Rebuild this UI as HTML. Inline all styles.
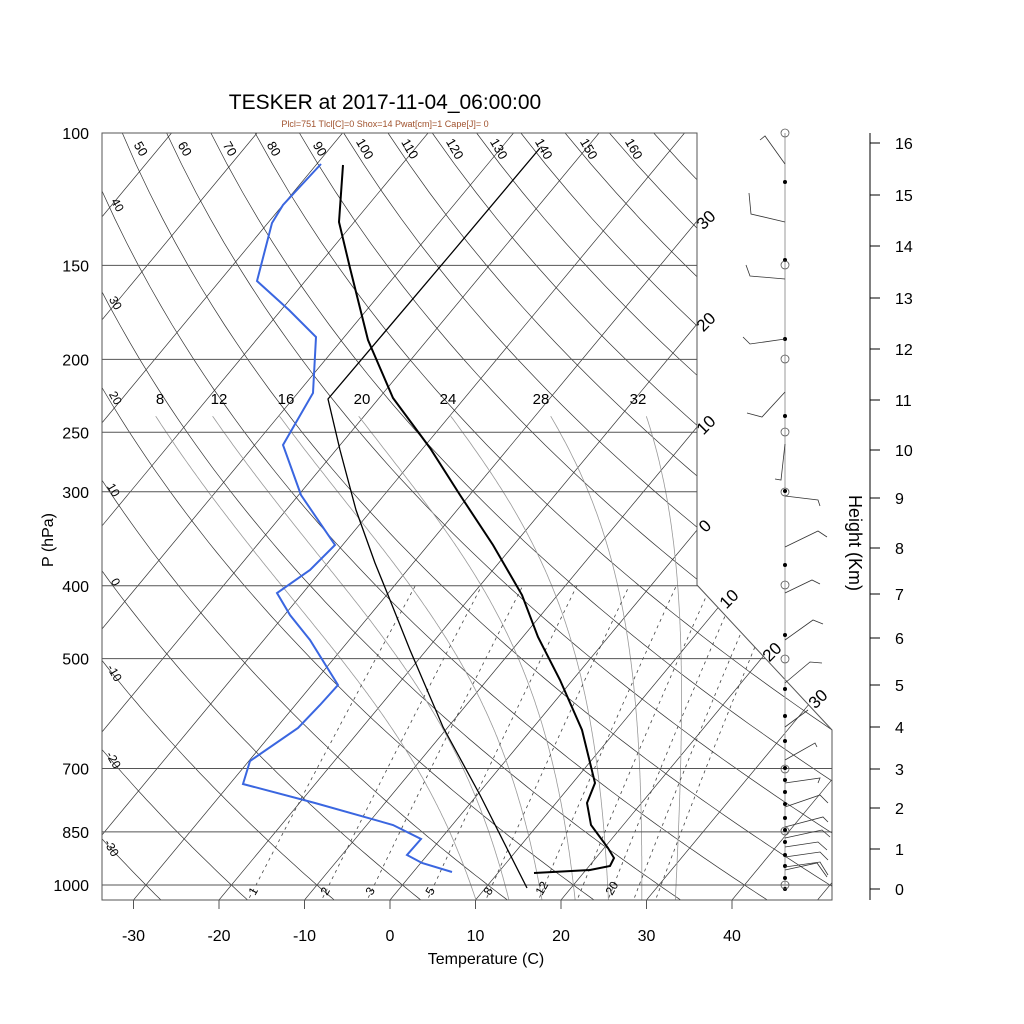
<!DOCTYPE html>
<html><head><meta charset="utf-8"><style>
html,body{margin:0;padding:0;background:#fff;width:1024px;height:1024px;overflow:hidden}
svg{display:block;font-family:"Liberation Sans",sans-serif}
</style></head><body>
<svg id="s" width="1024" height="1024" viewBox="0 0 1024 1024" xmlns="http://www.w3.org/2000/svg">
<defs><clipPath id="c"><path d="M102,133 L697,133 L697,585 L832,730 L832,900 L102,900 Z"/></clipPath></defs>
<g id="grid" clip-path="url(#c)"></g>
<g id="lab"></g>
<path d="M102,133 L697,133 L697,585 L832,730 L832,900 L102,900 Z" fill="none" stroke="#555" stroke-width="1"/>
<text x="385" y="109" font-size="21" text-anchor="middle">TESKER at 2017-11-04_06:00:00</text>
<text x="385" y="127" font-size="9" text-anchor="middle" fill="#a0522d">Plcl=751 Tlcl[C]=0 Shox=14 Pwat[cm]=1 Cape[J]= 0</text>
<text x="486" y="964" font-size="16" text-anchor="middle">Temperature (C)</text>
<text transform="translate(53,540) rotate(-90)" font-size="16" text-anchor="middle">P (hPa)</text>
<text transform="translate(849,543) rotate(90)" font-size="18" text-anchor="middle">Height (Km)</text>
<line x1="870" y1="133" x2="870" y2="900" stroke="#000" stroke-width="1"/>
<g id="data"></g>
</svg>
<script>
var NS="http://www.w3.org/2000/svg";
function Y(p){return 133+326.6*Math.log(p/100);}
function X(T,p){return 390+8.55*T+0.83*(900-Y(p));}
function el(par,tag,a,txt){var e=document.createElementNS(NS,tag);for(var k in a)e.setAttribute(k,a[k]);if(txt!==undefined)e.textContent=txt;document.getElementById(par).appendChild(e);return e;}
function poly(par,pts,st,w,dash){var d="M"+pts.map(function(q){return q[0].toFixed(1)+","+q[1].toFixed(1)}).join(" L");var a={d:d,fill:"none",stroke:st,"stroke-width":w};if(dash)a["stroke-dasharray"]=dash;return el(par,"path",a);}
for(var T=-140;T<=50;T+=10){poly("grid",[[X(T,1060),Y(1060)],[X(T,95),Y(95)]],"#333",0.7);}
for(var th=-40;th<=200;th+=10){var pts=[];for(var p=1060;p>=95;p-=10){var t=(th+273.15)*Math.pow(p/1000,0.2857)-273.15;pts.push([X(t,p),Y(p)]);}poly("grid",pts,"#333",0.7);}
function es(t){return 6.112*Math.exp(17.67*t/(t+243.5));}
var ml=[[8,160],[12,219],[16,286],[20,362],[24,448],[28,541],[32,638]];
ml.forEach(function(a){var t0=a[0];var pts=[];var T=t0+273.15,p=1000;
 function step(p,T,dp){var Rd=287,cp=1004,Lv=2.5e6,eps=0.622;var e=es(T-273.15);var rs=eps*e/(p-e);return dp/p*(Rd*T+Lv*rs)/(cp+Lv*Lv*rs*eps/(Rd*T*T));}
 var Tb=T,pb=p;var down=[];while(pb<1060){Tb+=step(pb,Tb,5);pb+=5;down.push([X(Tb-273.15,pb),Y(pb)]);}
 down.reverse().forEach(function(q){pts.push(q)});
 pts.push([X(T-273.15,p),Y(p)]);
 while(p>238){T+=step(p,T,-2);p-=2;pts.push([X(T-273.15,p),Y(p)]);}
 poly("grid",pts,"#999",0.8);
 el("lab","text",{x:a[1],y:404,"font-size":15,"text-anchor":"middle"},String(t0));
});
[1,2,3,5,8,12,16,20,24,28].forEach(function(w){var pts=[];for(var p=1060;p>=400;p-=10){var e=w*p/(622+w);var l=Math.log(e/6.112);var t=243.5*l/(17.67-l);pts.push([X(t,p),Y(p)]);}poly("grid",pts,"#444",0.8,"3,4");});
[100,150,200,250,300,400,500,700,850,1000].forEach(function(p){poly("grid",[[102,Y(p)],[832,Y(p)]],"#555",1);
 el("lab","text",{x:89,y:(Y(p)+6).toFixed(1),"font-size":16,"text-anchor":"end"},String(p));});
for(var T=-30;T<=40;T+=10){var x=390+8.55*T;poly("lab",[[x,900],[x,909]],"#555",1);el("lab","text",{x:x.toFixed(1),y:941,"font-size":16,"text-anchor":"middle"},String(T));}
[[1,255],[2,327],[3,372],[5,432],[8,490],[12,542],[20,612]].forEach(function(a){el("lab","text",{transform:"translate("+a[1]+",896) rotate(-60)","font-size":12,"text-anchor":"start"},String(a[0]));});
var tl=[[50,137],[60,181],[70,226],[80,270],[90,316],[100,361],[110,406],[120,451],[130,495],[140,540],[150,585],[160,630]];
tl.forEach(function(a){el("lab","text",{transform:"translate("+a[1]+",151) rotate(60)","font-size":13,"text-anchor":"middle"},String(a[0]));});
[[40,114,207],[30,112,305],[20,112,400],[10,110,492],[0,112,584],[-10,111,675],[-20,110,762],[-30,108,850]].forEach(function(a){el("lab","text",{transform:"translate("+a[1]+","+a[2]+") rotate(60)","font-size":12,"text-anchor":"middle"},String(a[0]));});
[[30,710,224],[20,710,326],[10,710,429],[0,709,530],[10,733,603],[20,776,656],[30,822,703]].forEach(function(a){el("lab","text",{transform:"translate("+a[1]+","+a[2]+") rotate(-45)","font-size":17,"text-anchor":"middle"},String(a[0]));});
var hy=[889,849,808,769,727,685,638,594,548,498,450,400,349,298,246,195,143];
for(var h=0;h<=16;h++){var y=hy[h];poly("lab",[[870,y],[880,y]],"#000",1);el("lab","text",{x:895,y:(y+6).toFixed(1),"font-size":16},String(h));}
poly("data",[[343,165],[339,222],[350,268],[368,340],[393,398],[430,448],[460,495],[493,545],[522,595],[538,637],[560,680],[582,730],[595,783],[587,803],[591,825],[608,848],[614,858],[610,866],[590,870],[534,873]],"#000",2);
poly("data",[[540,148],[450,255],[328,399],[340,450],[356,510],[375,563],[388,595],[410,650],[443,727],[480,795],[527,888]],"#000",1.3);
poly("data",[[321,164],[283,205],[272,223],[257,281],[289,310],[316,337],[313,393],[283,445],[301,495],[335,545],[310,570],[277,593],[290,615],[310,640],[338,685],[320,705],[298,728],[250,761],[243,784],[315,803],[393,825],[421,839],[407,855],[422,863],[452,872]],"#3a66e0",2);
poly("data",[[785,133],[785,889]],"#999",1);
[182,260,339,416,491,565,635,689,716,741,768,780,792,804,818,830,842,855,866,878,889].forEach(function(y){el("data","circle",{cx:785,cy:y,r:2,fill:"#000"});});
[133,265,359,432,492,585,659,769,831,885].forEach(function(y){el("data","circle",{cx:785,cy:y,r:4,fill:"none",stroke:"#555","stroke-width":0.8});});
var barbs=[[[785,164],[765,136],[760,140]],[[785,222],[751,214],[749,193]],[[785,279],[750,276],[746,265]],[[785,339],[750,344],[743,337]],[[785,392],[762,417],[747,413]],[[785,444],[781,480],[775,479]],[[785,496],[818,500],[820,506]],[[785,547],[818,531],[827,537]],[[785,593],[812,580],[820,584]],[[785,640],[813,620],[823,624]],[[785,683],[810,662],[822,663]],[[785,727],[808,710]],[[785,760],[815,743],[817,747]],[[785,783],[820,778],[818,783]],[[785,807],[820,795],[828,803]],[[785,827],[823,817],[828,822]],[[785,838],[822,830],[830,837]],[[785,847],[818,842],[827,850]],[[785,857],[820,852],[828,860]],[[785,867],[820,862],[828,875]],[[785,870],[817,863],[827,877]]];
barbs.forEach(function(b){poly("data",b,"#333",0.8);});
</script>
</body></html>
